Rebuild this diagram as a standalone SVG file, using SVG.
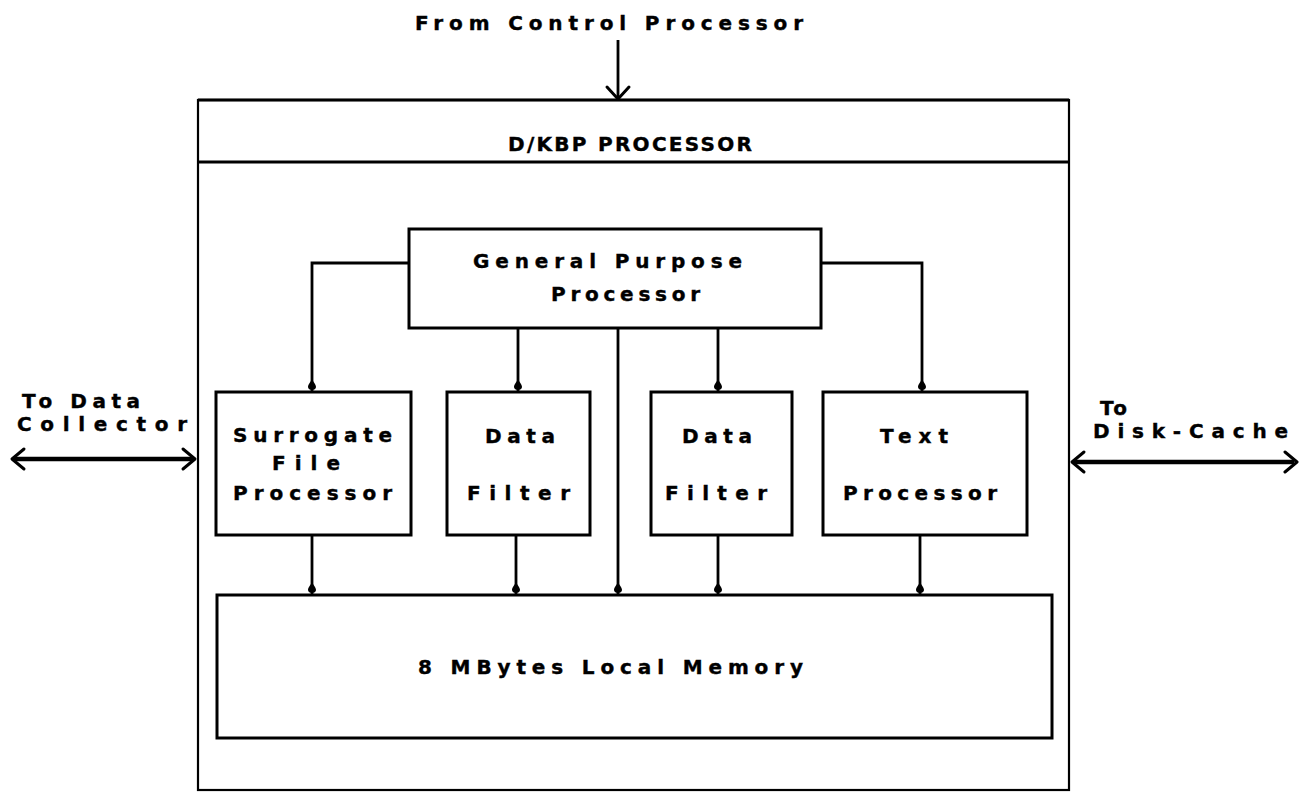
<svg xmlns="http://www.w3.org/2000/svg" width="1299" height="794" viewBox="0 0 1299 794">
<style>
.bg{fill:#ffffff}
.box{fill:none;stroke:#000;stroke-width:3}
.outer{fill:none;stroke:#000;stroke-width:2.2}
.ln{fill:none;stroke:#000;stroke-width:2.8}
.dbl{fill:none;stroke:#000;stroke-width:4.5}
.hd{fill:none;stroke:#000;stroke-width:3;stroke-linecap:round;stroke-linejoin:round}
text{font-family:"DejaVu Sans","Liberation Sans",Arial,sans-serif;font-weight:bold;font-size:20px;fill:#000;stroke:#000;stroke-width:0.4}
.big{font-size:20px}
</style>
<defs>
<marker id="tear" viewBox="-1 -5 14 10" refX="12" refY="0" markerWidth="14" markerHeight="10" markerUnits="userSpaceOnUse" orient="auto">
<path d="M0,0 C3,-1 5,-4 8,-4 C12,-4 12,4 8,4 C5,4 3,1 0,0 Z" fill="#000"/>
</marker>
</defs>
<rect class="bg" x="0" y="0" width="1299" height="794"/>

<g id="dkbp">
<rect class="outer" x="198" y="100" width="871" height="690"/>
<line class="box" x1="198" y1="162" x2="1069" y2="162"/>
<line class="box" x1="198" y1="100" x2="1069" y2="100"/>
<text class="big" x="508" y="151" textLength="244" lengthAdjust="spacing">D/KBP  PROCESSOR</text>
</g>

<g id="gpp">
<rect class="box" x="409" y="229" width="412" height="99"/>
<text x="473" y="268" textLength="269" lengthAdjust="spacing">General Purpose</text>
<text x="551" y="301" textLength="149" lengthAdjust="spacing">Processor</text>
</g>

<g id="surrogate">
<rect class="box" x="216" y="392" width="195" height="143"/>
<text x="233" y="442" textLength="159" lengthAdjust="spacing">Surrogate</text>
<text x="272" y="470" textLength="68" lengthAdjust="spacing">File</text>
<text x="233" y="500" textLength="159" lengthAdjust="spacing">Processor</text>
</g>

<g id="filter1">
<rect class="box" x="447" y="392" width="143" height="143"/>
<text x="485" y="443" textLength="70" lengthAdjust="spacing">Data</text>
<text x="467" y="500" textLength="103" lengthAdjust="spacing">Filter</text>
</g>

<g id="filter2">
<rect class="box" x="651" y="392" width="141" height="143"/>
<text x="682" y="443" textLength="70" lengthAdjust="spacing">Data</text>
<text x="665" y="500" textLength="102" lengthAdjust="spacing">Filter</text>
</g>

<g id="textproc">
<rect class="box" x="823" y="392" width="204" height="143"/>
<text x="880" y="443" textLength="68" lengthAdjust="spacing">Text</text>
<text x="843" y="500" textLength="154" lengthAdjust="spacing">Processor</text>
</g>

<g id="memory">
<rect class="box" x="217" y="595" width="835" height="143"/>
<text x="418" y="674" textLength="385" lengthAdjust="spacing">8 MBytes  Local Memory</text>
</g>

<g id="labels">
<text x="415" y="30" textLength="388" lengthAdjust="spacing">From Control Processor</text>
<text x="22" y="408" textLength="118" lengthAdjust="spacing">To Data</text>
<text x="17" y="431" textLength="170" lengthAdjust="spacing">Collector</text>
<text x="1100" y="415" textLength="27" lengthAdjust="spacing">To</text>
<text x="1093" y="438" textLength="195" lengthAdjust="spacing">Disk-Cache</text>
</g>

<g id="connectors">
<line class="ln" x1="618" y1="40" x2="618" y2="99"/>
<polyline class="hd" points="607,87 618,99 629,87"/>

<polyline class="ln" points="409,263 312,263 312,391" marker-end="url(#tear)"/>
<line class="ln" x1="518" y1="328" x2="518" y2="391" marker-end="url(#tear)"/>
<line class="ln" x1="718" y1="328" x2="718" y2="391" marker-end="url(#tear)"/>
<polyline class="ln" points="821,263 922,263 922,391" marker-end="url(#tear)"/>

<line class="ln" x1="618" y1="328" x2="618" y2="594" marker-end="url(#tear)"/>
<line class="ln" x1="312" y1="535" x2="312" y2="594" marker-end="url(#tear)"/>
<line class="ln" x1="516" y1="535" x2="516" y2="594" marker-end="url(#tear)"/>
<line class="ln" x1="718" y1="535" x2="718" y2="594" marker-end="url(#tear)"/>
<line class="ln" x1="920" y1="535" x2="920" y2="594" marker-end="url(#tear)"/>

<line class="dbl" x1="14" y1="459" x2="193" y2="459"/>
<polyline class="hd" points="24,449 12,459 24,469"/>
<polyline class="hd" points="183,449 195,459 183,469"/>

<line class="dbl" x1="1074" y1="462" x2="1294" y2="462"/>
<polyline class="hd" points="1084,452 1072,462 1084,472"/>
<polyline class="hd" points="1285,452 1297,462 1285,472"/>
</g>
</svg>
